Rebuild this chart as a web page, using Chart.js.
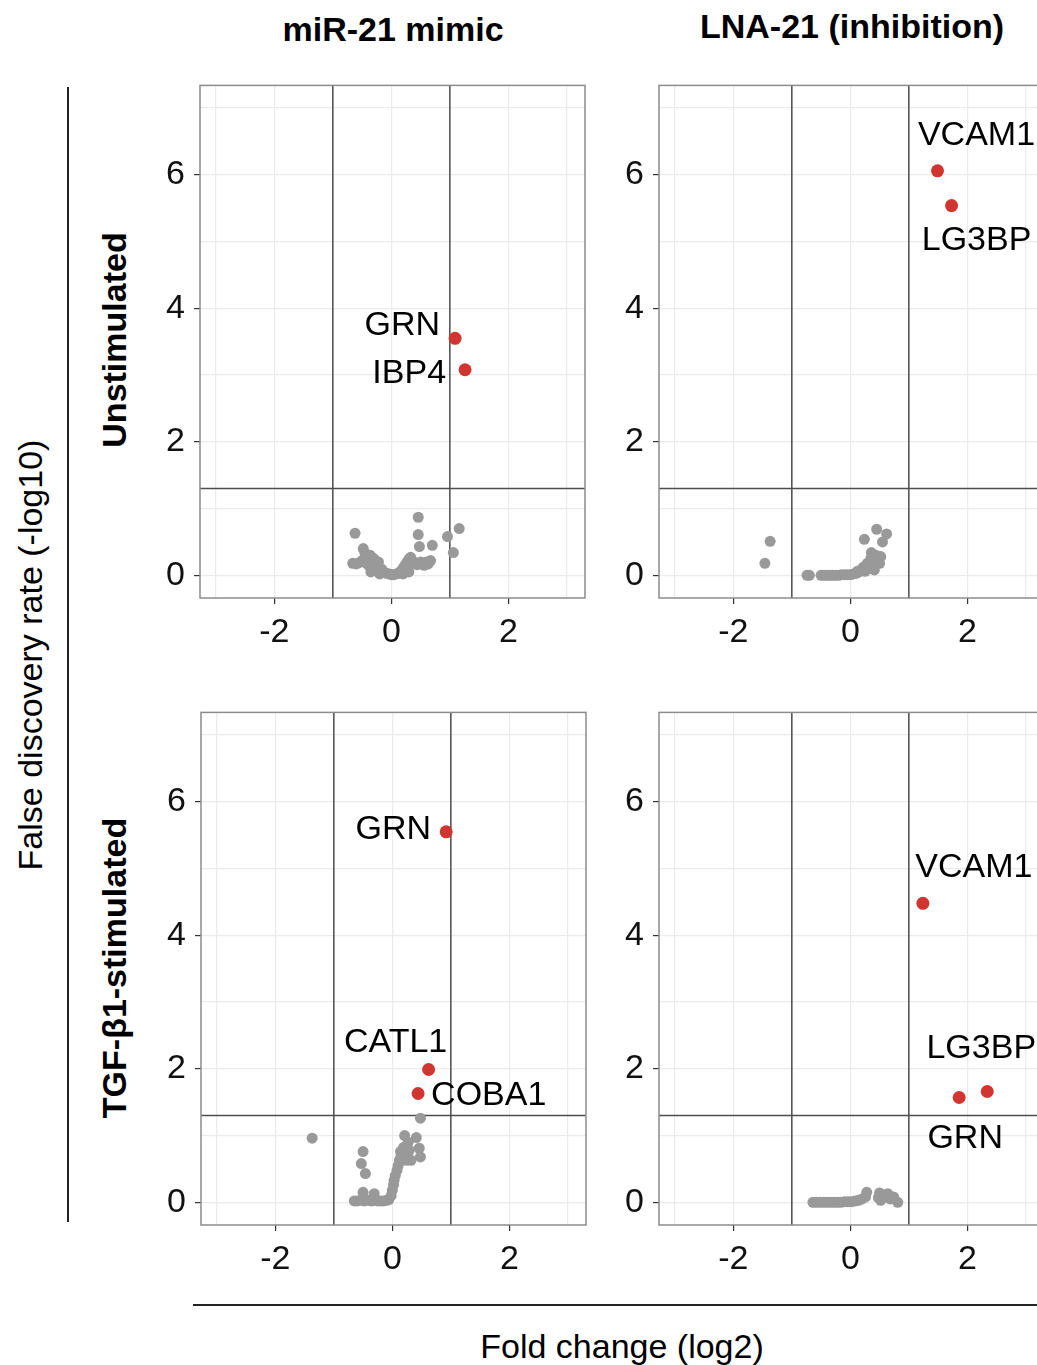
<!DOCTYPE html>
<html>
<head>
<meta charset="utf-8">
<script src="https://cdn.jsdelivr.net/npm/chart.js@4.4.1/dist/chart.umd.min.js"></script>
<style>
  html, body { margin: 0; padding: 0; background: #fff; overflow: hidden; }
  #page { position: relative; width: 1037px; height: 1365px; overflow: hidden;
          font-family: "Liberation Sans", Arial, sans-serif; color: #000; }
  canvas { position: absolute; }
  .txt { position: absolute; white-space: nowrap; font-size: 34px; line-height: 1;
         transform: translate(-50%, -50%); }
  .bold { font-weight: bold; }
  .rot { transform: translate(-50%, -50%) rotate(-90deg); }
  .rule { position: absolute; background: #222; }
</style>
</head>
<body>
<div id="page">
  <div class="txt bold" style="left:393px; top:29px;">miR-21 mimic</div>
  <div class="txt bold" style="left:852px; top:26px;">LNA-21 (inhibition)</div>
  <div class="txt bold rot" style="left:114px; top:340px;">Unstimulated</div>
  <div class="txt bold rot" style="left:114px; top:968px;">TGF-β1-stimulated</div>
  <div class="txt rot" style="left:30px; top:655px;">False discovery rate (-log10)</div>
  <div class="txt" style="left:622px; top:1346px;">Fold change (log2)</div>
  <div class="rule" style="left:67px; top:87px; width:2px; height:1135px;"></div>
  <div class="rule" style="left:193px; top:1304px; width:844px; height:2px;"></div>

  <canvas id="cUnstimMimic" width="470" height="624" style="left:130px; top:56px;"></canvas>
  <canvas id="cUnstimLna" width="470" height="624" style="left:589px; top:56px;"></canvas>
  <canvas id="cTgfMimic" width="470" height="624" style="left:131px; top:683px;"></canvas>
  <canvas id="cTgfLna" width="470" height="624" style="left:589px; top:683px;"></canvas>
</div>

<script>
// axis setup
var xMin = -3.27, xMax = 3.31;
var yMin = -0.34, yMax = 7.34;
var xGrid = [-3, -2, -1, 0, 1, 2, 3];
var yGrid = [0, 1, 2, 3, 4, 5, 6, 7];
var xTickLabels = [-2, 0, 2];
var yTickLabels = [0, 2, 4, 6];
var fcCut = 1;          // |log2 fold change| cut-off
var fdrCut = 1.301;     // -log10(0.05)

// non-significant genes, [log2 FC, -log10 FDR]
var unstimMimicGray = [
  [-0.62,0.63],[0.46,0.87],[0.46,0.61],[0.48,0.43],[0.70,0.45],[1.16,0.70],[0.96,0.58],[1.06,0.34],
  [-0.48,0.40],[-0.45,0.33],[-0.36,0.30],[-0.30,0.25],[-0.22,0.20],
  [-0.66,0.18],[-0.60,0.17],[-0.55,0.19],[-0.50,0.22],[-0.42,0.18],[-0.38,0.14],[-0.33,0.16],
  [-0.28,0.10],[-0.25,0.13],[-0.20,0.07],[-0.16,0.09],[-0.12,0.04],[-0.08,0.03],[-0.04,0.02],
  [0.00,0.01],[0.04,0.01],[0.08,0.02],[0.12,0.03],[0.15,0.05],[0.18,0.08],[0.21,0.12],[0.24,0.16],
  [0.27,0.20],[0.30,0.24],[0.33,0.27],[0.36,0.22],[0.40,0.18],[0.44,0.16],[0.50,0.20],[0.56,0.15],
  [0.60,0.20],[0.67,0.22],[0.63,0.17],[-0.35,0.05],[-0.20,0.02],[0.20,0.02],[0.30,0.05]
];
var unstimLnaGray = [
  [-1.37,0.51],[-1.46,0.18],[-0.74,0.00],[-0.70,0.00],[-0.50,0.00],[-0.45,0.00],[-0.40,0.00],
  [-0.35,0.00],[-0.30,0.00],[-0.25,0.00],[-0.20,0.00],[-0.15,0.01],[-0.10,0.01],[-0.05,0.01],
  [0.00,0.01],[0.05,0.02],[0.10,0.03],[0.15,0.05],[0.18,0.08],[0.22,0.12],[0.25,0.06],[0.28,0.15],
  [0.29,0.18],[0.32,0.10],[0.35,0.25],[0.36,0.34],[0.38,0.22],[0.41,0.08],[0.44,0.30],[0.46,0.22],
  [0.50,0.18],[0.52,0.28],[0.24,0.54],[0.45,0.69],[0.62,0.62],[0.55,0.50],[0.33,0.18],[0.12,0.06]
];
var tgfMimicGray = [
  [-1.37,0.96],[0.48,1.26],[0.21,1.00],[0.41,0.97],[0.27,0.90],[0.46,0.81],[0.48,0.68],
  [-0.50,0.76],[-0.53,0.58],[-0.46,0.43],[-0.50,0.15],[-0.31,0.13],
  [-0.65,0.02],[-0.60,0.02],[-0.55,0.03],[-0.48,0.02],[-0.42,0.03],[-0.36,0.02],[-0.30,0.03],
  [-0.25,0.02],[-0.20,0.02],[-0.15,0.02],[-0.10,0.03],[-0.06,0.04],
  [-0.02,0.10],[0.00,0.18],[0.02,0.26],[0.03,0.33],[0.05,0.40],[0.08,0.48],[0.10,0.55],
  [0.12,0.63],[0.15,0.70],[0.19,0.82],[0.24,0.63],[0.29,0.78],[0.32,0.63],[0.14,0.76],[0.22,0.72]
];
var tgfLnaGray = [
  [-0.64,0.00],[-0.58,0.00],[-0.52,0.00],[-0.46,0.00],[-0.40,0.00],[-0.34,0.00],[-0.28,0.00],
  [-0.22,0.00],[-0.16,0.00],[-0.10,0.01],[-0.04,0.01],[0.02,0.01],[0.08,0.02],[0.14,0.03],
  [0.20,0.05],[0.26,0.08],[0.28,0.15],[0.50,0.14],[0.52,0.03],[0.64,0.13],[0.74,0.08],
  [0.81,0.00],[0.48,0.07],[0.68,0.05]
];

// significant genes
var unstimMimicGenes = ["GRN", "IBP4"];
var unstimMimicFc = [1.09, 1.26];
var unstimMimicFdr = [3.55, 3.08];

var unstimLnaGenes = ["VCAM1", "LG3BP"];
var unstimLnaFc = [1.49, 1.73];
var unstimLnaFdr = [6.06, 5.54];

var tgfMimicGenes = ["GRN", "CATL1", "COBA1"];
var tgfMimicFc = [0.92, 0.62, 0.44];
var tgfMimicFdr = [5.55, 1.99, 1.63];

var tgfLnaGenes = ["VCAM1", "LG3BP", "GRN"];
var tgfLnaFc = [1.24, 2.34, 1.86];
var tgfLnaFdr = [4.48, 1.66, 1.57];

// where each gene name sits next to its point (pixels)
var labelPlace = {
  cUnstimMimic: [{dx:-15, dy:-13, align:"right"}, {dx:-19, dy:4, align:"right"}],
  cUnstimLna:   [{dx:39, dy:-35, align:"center"}, {dx:25, dy:35, align:"center"}],
  cTgfMimic:    [{dx:-15, dy:-2, align:"right"}, {dx:-33, dy:-27, align:"center"}, {dx:13, dy:2, align:"left"}],
  cTgfLna:      [{dx:51, dy:-36, align:"center"}, {dx:-6, dy:-43, align:"center"}, {dx:6, dy:41, align:"center"}]
};

var FONT = "'Liberation Sans', Arial, sans-serif";

var panelDeco = {
  id: "panelDeco",
  beforeDatasetsDraw: function(chart) {
    var ctx = chart.ctx, a = chart.chartArea;
    var sx = chart.scales.x, sy = chart.scales.y;
    ctx.save();
    ctx.strokeStyle = "#4d4d4d";
    ctx.lineWidth = 1.5;
    ctx.beginPath();
    [-fcCut, fcCut].forEach(function(v) {
      var px = sx.getPixelForValue(v);
      ctx.moveTo(px, a.top); ctx.lineTo(px, a.bottom);
    });
    var py = sy.getPixelForValue(fdrCut);
    ctx.moveTo(a.left, py); ctx.lineTo(a.right, py);
    ctx.stroke();
    ctx.strokeStyle = "#8c8c8c";
    ctx.lineWidth = 1.5;
    ctx.strokeRect(a.left, a.top, a.right - a.left, a.bottom - a.top);
    ctx.restore();
  },
  afterDraw: function(chart) {
    var ctx = chart.ctx;
    var meta = chart.getDatasetMeta(1);
    var genes = chart.data.datasets[1].genes;
    var place = labelPlace[chart.canvas.id];
    ctx.save();
    ctx.font = "34px " + FONT;
    ctx.fillStyle = "#000";
    ctx.textBaseline = "middle";
    meta.data.forEach(function(pt, i) {
      ctx.textAlign = place[i].align;
      ctx.fillText(genes[i], pt.x + place[i].dx, pt.y + place[i].dy);
    });
    ctx.restore();
  }
};

function makePanel(id, gray, fc, fdr, genes) {
  new Chart(document.getElementById(id), {
    type: "scatter",
    data: {
      datasets: [
        { data: gray.map(function(p) { return {x: p[0], y: p[1]}; }),
          backgroundColor: "#999999", borderWidth: 0, pointRadius: 5.5 },
        { data: fc.map(function(v, i) { return {x: v, y: fdr[i]}; }),
          genes: genes,
          backgroundColor: "#d1352f", borderWidth: 0, pointRadius: 6.5 }
      ]
    },
    options: {
      responsive: false,
      devicePixelRatio: 1,
      animation: false,
      layout: { padding: {left: 0, right: 15, top: 5, bottom: 0} },
      plugins: { legend: {display: false}, tooltip: {enabled: false} },
      scales: {
        x: {
          type: "linear", min: xMin, max: xMax,
          afterBuildTicks: function(s) { s.ticks = xGrid.map(function(v) { return {value: v}; }); },
          afterFit: function(s) { s.height = 82; },
          border: {display: false},
          grid: {
            color: "#ebebeb", lineWidth: 1.2, tickLength: 6,
            tickColor: function(c) { return (c.tick && xTickLabels.indexOf(c.tick.value) >= 0) ? "#333" : "rgba(0,0,0,0)"; }
          },
          ticks: {
            autoSkip: false, maxRotation: 0, padding: 8, color: "#111",
            font: {size: 34, family: FONT},
            callback: function(v) { return xTickLabels.indexOf(v) >= 0 ? String(v) : ""; }
          }
        },
        y: {
          type: "linear", min: yMin, max: yMax,
          afterBuildTicks: function(s) { s.ticks = yGrid.map(function(v) { return {value: v}; }); },
          afterFit: function(s) { s.width = 70; },
          border: {display: false},
          grid: {
            color: "#ebebeb", lineWidth: 1.2, tickLength: 6,
            tickColor: function(c) { return (c.tick && yTickLabels.indexOf(c.tick.value) >= 0) ? "#333" : "rgba(0,0,0,0)"; }
          },
          ticks: {
            autoSkip: false, padding: 9, color: "#111",
            font: {size: 34, family: FONT},
            callback: function(v) { return yTickLabels.indexOf(v) >= 0 ? String(v) : ""; }
          }
        }
      }
    },
    plugins: [panelDeco]
  });
}

makePanel("cUnstimMimic", unstimMimicGray, unstimMimicFc, unstimMimicFdr, unstimMimicGenes);
makePanel("cUnstimLna", unstimLnaGray, unstimLnaFc, unstimLnaFdr, unstimLnaGenes);
makePanel("cTgfMimic", tgfMimicGray, tgfMimicFc, tgfMimicFdr, tgfMimicGenes);
makePanel("cTgfLna", tgfLnaGray, tgfLnaFc, tgfLnaFdr, tgfLnaGenes);
</script>
</body>
</html>
